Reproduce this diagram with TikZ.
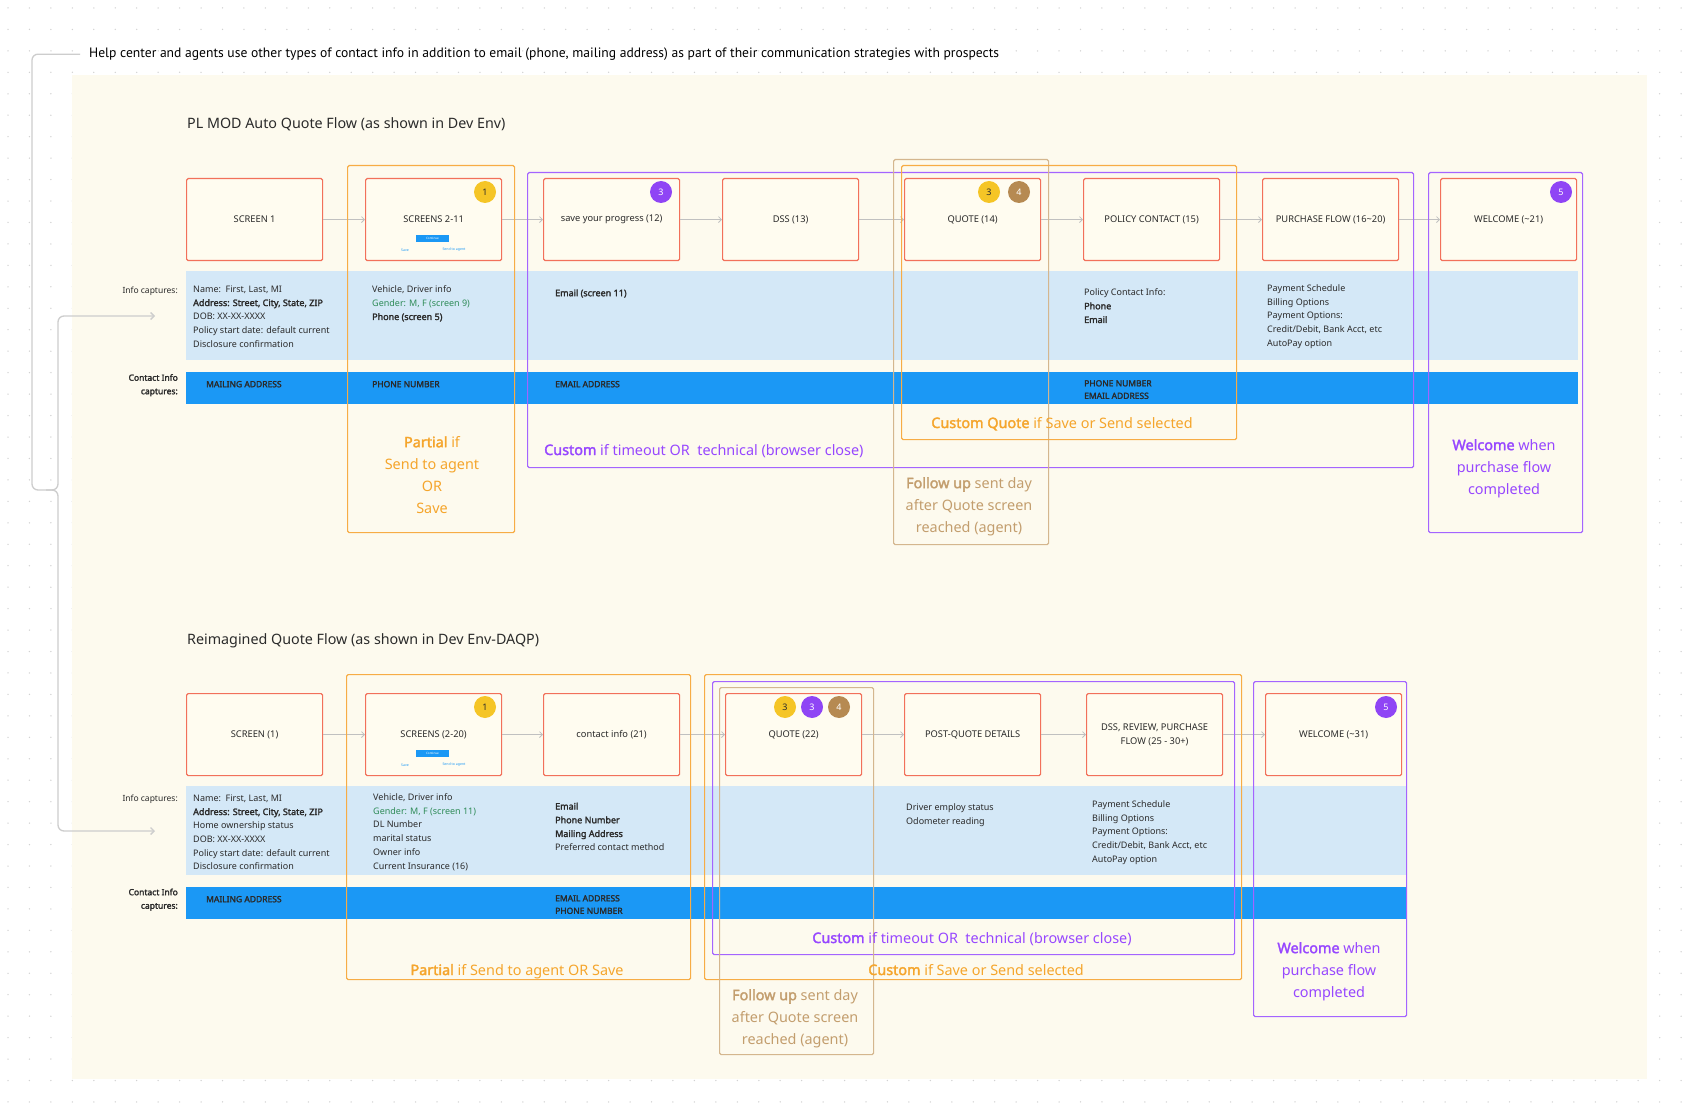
\documentclass[tikz,border=0pt]{standalone}
\usepackage{fontspec}
\setmainfont{Noto Sans}[AutoFakeBold=2.2]
\newfontfamily\hdrfont{PT Sans}
\usetikzlibrary{arrows.meta}
\definecolor{cream}{HTML}{FDFAEE}
\definecolor{boxfill}{HTML}{FFFCF0}
\definecolor{infoblue}{HTML}{D4E8F7}
\definecolor{contactblue}{HTML}{1B98F5}
\definecolor{scrred}{HTML}{F2705A}
\definecolor{orangeA}{HTML}{F7AC45}
\definecolor{orangeT}{HTML}{F5A52C}
\definecolor{purpA}{HTML}{A464FF}
\definecolor{purpT}{HTML}{9747FF}
\definecolor{tanA}{HTML}{D4B68E}
\definecolor{tanT}{HTML}{C39E6E}
\definecolor{badgeY}{HTML}{F5C526}
\definecolor{badgeP}{HTML}{8F45F5}
\definecolor{badgeT}{HTML}{B68A52}
\definecolor{greenT}{HTML}{2E8B57}
\definecolor{txt}{HTML}{2A2A2A}
\definecolor{arrowgrey}{HTML}{C0C0C0}
\definecolor{dotgrey}{HTML}{D2D2D2}
\definecolor{linegrey}{HTML}{CDCDCD}
\newcommand{\myfs}[2]{\fontsize{#1}{#2}\selectfont}
\begin{document}
\begin{tikzpicture}[x=1pt,y=-1pt,
  screenbox/.style={draw=scrred, line width=1.2pt, fill=boxfill, rounded corners=1.5pt,
    minimum width=136pt, minimum height=82pt, anchor=north west, inner sep=0pt,
    font=\myfs{9.3}{14}, text=txt, align=center},
  flowarrow/.style={draw=arrowgrey, line width=0.8pt, -{Straight Barb[length=3pt,width=6pt]}},
  band/.style={anchor=north west, inner sep=0pt, draw=none},
  annobox/.style={anchor=north west, inner sep=0pt, line width=1.2pt, rounded corners=1.5pt},
  badge/.style={circle, minimum size=22pt, inner sep=0pt, font=\myfs{9}{10}},
  infotext/.style={anchor=north west, inner sep=0pt, align=left, font=\myfs{9}{13.7}, text=txt, execute at begin node=\rule{0pt}{7.5pt}},
  contacttext/.style={anchor=north west, inner sep=0pt, align=left, font=\bfseries\myfs{8.5}{12.5}, text=txt, execute at begin node=\rule{0pt}{7pt}},
  rowlabel/.style={anchor=north east, inner sep=0pt, align=right, font=\myfs{8.5}{13.5}, text=txt, execute at begin node=\rule{0pt}{7pt}},
  annotext/.style={inner sep=0pt, align=center, font=\myfs{14.4}{22}},
  annomulti/.style={anchor=north, inner sep=0pt, align=center, font=\myfs{14.4}{22}, execute at begin node=\rule{0pt}{11pt}},
  titletext/.style={anchor=base west, inner sep=0pt, font=\myfs{14.3}{18}, text=txt},
  connector/.style={draw=linegrey, line width=1.3pt, rounded corners=6pt},
  connarrow/.style={-{Straight Barb[length=3.5pt,width=7pt]}},
  minibtn/.style={fill=contactblue, minimum width=33pt, minimum height=7pt, inner sep=0pt, font=\myfs{3}{3}, text=white},
  minilink/.style={inner sep=0pt, font=\myfs{3.5}{4}, text=contactblue}
]
\useasboundingbox (0,0) rectangle (1682,1115);
\fill[white] (0,0) rectangle (1682,1115);
\foreach \i in {0,...,78}{\foreach \j in {0,...,51}{\fill[dotgrey] ({8+\i*21.45},{8+\j*21.45}) circle (0.75pt);}}
\fill[cream] (72,75) rectangle (1647,1079);

% header and bracket connector
\node[anchor=base west, inner sep=0pt, font=\hdrfont\myfs{13.6}{15}, text=black] (hdr) at (89,57.5) {Help center and agents use other types of contact info in addition to email (phone, mailing address) as part of their communication strategies with prospects};
\coordinate (brL) at (32,490);
\coordinate (brtip) at (46,490);
\coordinate (brmid) at (58,490);
\coordinate (arrTop) at (155,316);
\coordinate (arrBot) at (155,831);
\draw[connector] ([xshift=-9pt]hdr.west) -| (brL) -- (brtip);
\draw[connector, connarrow] (brtip) -- (brmid) |- (arrTop);
\draw[connector, connarrow] (brtip) -- (brmid) |- (arrBot);

% titles
\node[titletext] (titleA) at (187,129) {PL MOD Auto Quote Flow (as shown in Dev Env)};
\node[titletext] (titleB) at (187,644) {Reimagined Quote Flow (as shown in Dev Env-DAQP)};

% ---------------- top flow ----------------
\node[band, fill=infoblue, minimum width=1392pt, minimum height=89pt] (infoA) at (186,271) {};
\node[band, fill=contactblue, minimum width=1392pt, minimum height=32pt] (contA) at (186,372) {};

\node[screenbox] (s1) at (186,178) {SCREEN 1};
\node[screenbox] (s2) at (365,178) {SCREENS 2-11};
\node[screenbox] (s3) at (543,178) {save your progress (12)};
\node[screenbox] (s4) at (722,178) {DSS (13)};
\node[screenbox] (s5) at (904,178) {QUOTE (14)};
\node[screenbox] (s6) at (1083,178) {POLICY CONTACT (15)};
\node[screenbox] (s7) at (1262,178) {PURCHASE FLOW (16\textasciitilde20)};
\node[screenbox] (s8) at (1440,178) {WELCOME (\textasciitilde21)};
\draw[flowarrow] (s1.east) -- (s2.west);
\draw[flowarrow] (s2.east) -- (s3.west);
\draw[flowarrow] (s3.east) -- (s4.west);
\draw[flowarrow] (s4.east) -- (s5.west);
\draw[flowarrow] (s5.east) -- (s6.west);
\draw[flowarrow] (s6.east) -- (s7.west);
\draw[flowarrow] (s7.east) -- (s8.west);

\node[minibtn] (btnA) at (432.5,238.5) {Continue};
\node[minilink] (saveA) at (405,250) {Save};
\node[minilink] (sendA) at (454,250) {Send to agent};

\node[badge, fill=badgeY, text=txt] (bA1) at (485,192) {1};
\node[badge, fill=badgeP, text=white] (bA3) at (661,192) {3};
\node[badge, fill=badgeY, text=txt] (bA5a) at (989,192) {3};
\node[badge, fill=badgeT, text=white] (bA5b) at (1019,192) {4};
\node[badge, fill=badgeP, text=white] (bA8) at (1561,192) {5};

\node[rowlabel] (labIA) at (178,286) {Info captures:};
\node[rowlabel, font=\bfseries\myfs{8.5}{13.5}] (labCA) at (178,374) {Contact Info\\captures:};

\node[infotext] (iA1) at (193,285.5) {Name:\ \ First, Last, MI\\\textbf{Address: Street, City, State, ZIP}\\DOB: XX-XX-XXXX\\Policy start date: default current\\Disclosure confirmation};
\node[infotext] (iA2) at (372,285.5) {Vehicle, Driver info\\\textcolor{greenT}{Gender: M, F (screen 9)}\\\textbf{Phone (screen 5)}};
\node[infotext] (iA3) at (555,288.5) {\textbf{Email (screen 11)}};
\node[infotext] (iA6) at (1084,288.5) {Policy Contact Info:\\\textbf{Phone}\\\textbf{Email}};
\node[infotext] (iA7) at (1267,284.5) {Payment Schedule\\Billing Options\\Payment Options:\\Credit/Debit, Bank Acct, etc\\AutoPay option};

\node[contacttext] (cA1) at (206,380) {MAILING ADDRESS};
\node[contacttext] (cA2) at (372,380) {PHONE NUMBER};
\node[contacttext] (cA3) at (555,380) {EMAIL ADDRESS};
\node[contacttext] (cA6) at (1084,380) {PHONE NUMBER\\EMAIL ADDRESS};

\node[annobox, draw=orangeA, minimum width=167pt, minimum height=367pt] (partA) at (347,165) {};
\node[annobox, draw=purpA, minimum width=886pt, minimum height=295pt] (custA) at (527,172) {};
\node[annobox, draw=tanA, minimum width=155pt, minimum height=385pt] (follA) at (893,159) {};
\node[annobox, draw=orangeA, minimum width=335pt, minimum height=274pt] (quoteA) at (901,165) {};
\node[annobox, draw=purpA, minimum width=154pt, minimum height=360pt] (welA) at (1428,172) {};

\node[annomulti, text=orangeT] (partAt) at (432,436) {\textbf{Partial} if\\Send to agent\\OR\\Save};
\node[annotext, anchor=base west, text=purpT] (custAt) at (544,455) {\textbf{Custom} if timeout OR\ \ technical (browser close)};
\node[annomulti, text=tanT] (follAt) at (969,477) {\textbf{Follow up} sent day\\after Quote screen\\reached (agent)};
\node[annotext, anchor=base, text=orangeT] (quoteAt) at (1062,428) {\textbf{Custom Quote} if Save or Send selected};
\node[annomulti, text=purpT] (welAt) at (1504,439) {\textbf{Welcome} when\\purchase flow\\completed};

% ---------------- bottom flow ----------------
\node[band, fill=infoblue, minimum width=1220pt, minimum height=89pt] (infoB) at (186,786) {};
\node[band, fill=contactblue, minimum width=1220pt, minimum height=32pt] (contB) at (186,887) {};

\node[screenbox] (t1) at (186,693) {SCREEN (1)};
\node[screenbox] (t2) at (365,693) {SCREENS (2-20)};
\node[screenbox] (t3) at (543,693) {contact info (21)};
\node[screenbox] (t4) at (725,693) {QUOTE (22)};
\node[screenbox] (t5) at (904,693) {POST-QUOTE DETAILS};
\node[screenbox] (t6) at (1086,693) {DSS, REVIEW, PURCHASE\\FLOW (25 - 30+)};
\node[screenbox] (t7) at (1265,693) {WELCOME (\textasciitilde31)};
\draw[flowarrow] (t1.east) -- (t2.west);
\draw[flowarrow] (t2.east) -- (t3.west);
\draw[flowarrow] (t3.east) -- (t4.west);
\draw[flowarrow] (t4.east) -- (t5.west);
\draw[flowarrow] (t5.east) -- (t6.west);
\draw[flowarrow] (t6.east) -- (t7.west);

\node[minibtn] (btnB) at (432.5,753.5) {Continue};
\node[minilink] (saveB) at (405,765) {Save};
\node[minilink] (sendB) at (454,765) {Send to agent};

\node[badge, fill=badgeY, text=txt] (bB1) at (485,707) {1};
\node[badge, fill=badgeY, text=txt] (bB4a) at (785,707) {3};
\node[badge, fill=badgeP, text=white] (bB4b) at (812,707) {3};
\node[badge, fill=badgeT, text=white] (bB4c) at (839,707) {4};
\node[badge, fill=badgeP, text=white] (bB7) at (1386,707) {5};

\node[rowlabel] (labIB) at (178,794) {Info captures:};
\node[rowlabel, font=\bfseries\myfs{8.5}{13.5}] (labCB) at (178,888.5) {Contact Info\\captures:};

\node[infotext] (iB1) at (193,794.5) {Name:\ \ First, Last, MI\\\textbf{Address: Street, City, State, ZIP}\\Home ownership status\\DOB: XX-XX-XXXX\\Policy start date: default current\\Disclosure confirmation};
\node[infotext] (iB2) at (373,793.5) {Vehicle, Driver info\\\textcolor{greenT}{Gender: M, F (screen 11)}\\DL Number\\marital status\\Owner info\\Current Insurance (16)};
\node[infotext] (iB3) at (555,802.5) {\textbf{Email}\\\textbf{Phone Number}\\\textbf{Mailing Address}\\Preferred contact method};
\node[infotext] (iB5) at (906,803.5) {Driver employ status\\Odometer reading};
\node[infotext] (iB6) at (1092,800.5) {Payment Schedule\\Billing Options\\Payment Options:\\Credit/Debit, Bank Acct, etc\\AutoPay option};

\node[contacttext] (cB1) at (206,895) {MAILING ADDRESS};
\node[contacttext] (cB3) at (555,895) {EMAIL ADDRESS\\PHONE NUMBER};

\node[annobox, draw=orangeA, minimum width=344pt, minimum height=305pt] (partB) at (346,674) {};
\node[annobox, draw=orangeA, minimum width=537pt, minimum height=305pt] (saveBx) at (704,674) {};
\node[annobox, draw=purpA, minimum width=522pt, minimum height=273pt] (custB) at (712,681) {};
\node[annobox, draw=tanA, minimum width=154pt, minimum height=367pt] (follB) at (719,687) {};
\node[annobox, draw=purpA, minimum width=153pt, minimum height=335pt] (welB) at (1253,681) {};

\node[annotext, anchor=base, text=orangeT] (partBt) at (517,975) {\textbf{Partial} if Send to agent OR Save};
\node[annotext, anchor=base, text=orangeT] (saveBt) at (976,975) {\textbf{Custom} if Save or Send selected};
\node[annotext, anchor=base, text=purpT] (custBt) at (972,943) {\textbf{Custom} if timeout OR\ \ technical (browser close)};
\node[annomulti, text=tanT] (follBt) at (795,989) {\textbf{Follow up} sent day\\after Quote screen\\reached (agent)};
\node[annomulti, text=purpT] (welBt) at (1329,942) {\textbf{Welcome} when\\purchase flow\\completed};
\end{tikzpicture}
\end{document}
